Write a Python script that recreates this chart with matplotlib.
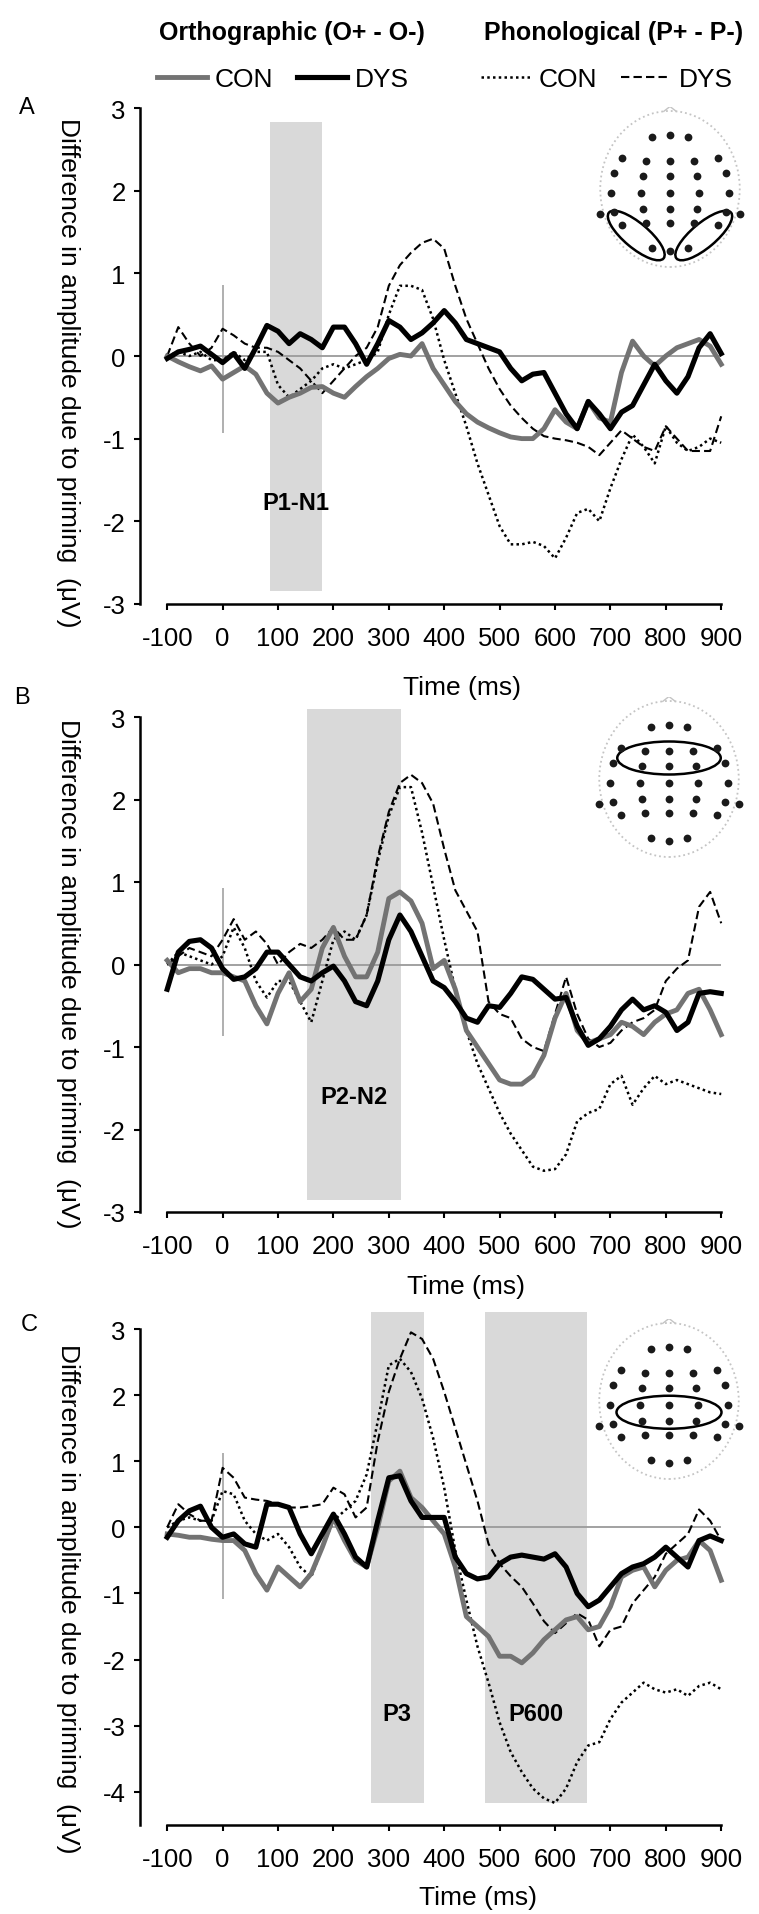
import matplotlib
matplotlib.use("Agg")
import matplotlib.pyplot as plt
from matplotlib.patches import Ellipse, Polygon

plt.rcParams['font.family'] = ['Liberation Sans', 'DejaVu Sans']
plt.rcParams['axes.unicode_minus'] = False

W, H = 759, 1915

# time grid (ms)
times = [-100, -80, -60, -40, -20, 0, 20, 40, 60, 80, 100, 120, 140, 160, 180,
         200, 220, 240, 260, 280, 300, 320, 340, 360, 380, 400, 420, 440, 460,
         480, 500, 520, 540, 560, 580, 600, 620, 640, 660, 680, 700, 720, 740,
         760, 780, 800, 820, 840, 860, 880, 900]

# Panel A - occipito-temporal sites
a_orth_con = [0, -0.07, -0.13, -0.18, -0.12, -0.28, -0.2, -0.12, -0.22, -0.45,
              -0.57, -0.5, -0.45, -0.38, -0.37, -0.45, -0.5, -0.37, -0.25, -0.15,
              -0.03, 0.02, 0.0, 0.15, -0.15, -0.35, -0.55, -0.7, -0.8, -0.87,
              -0.93, -0.98, -1.0, -1.0, -0.88, -0.65, -0.8, -0.88, -0.55, -0.75,
              -0.8, -0.2, 0.18, 0.0, -0.12, 0.0, 0.1, 0.15, 0.2, 0.12, -0.1]
a_orth_dys = [-0.03, 0.05, 0.08, 0.12, 0.02, -0.08, 0.03, -0.15, 0.1, 0.37,
              0.3, 0.15, 0.27, 0.2, 0.1, 0.35, 0.35, 0.15, -0.1, 0.15,
              0.43, 0.35, 0.2, 0.28, 0.4, 0.55, 0.4, 0.2, 0.15, 0.1,
              0.05, -0.15, -0.3, -0.22, -0.2, -0.45, -0.7, -0.88, -0.55, -0.7,
              -0.88, -0.68, -0.6, -0.35, -0.1, -0.3, -0.45, -0.25, 0.1, 0.27, 0.03]
a_phon_con = [0, 0.05, 0, 0.05, -0.05, -0.05, 0.05, -0.05, 0.05, 0.05,
              -0.35, -0.5, -0.4, -0.3, -0.15, -0.1, -0.15, -0.1, -0.05, 0.05,
              0.5, 0.85, 0.85, 0.8, 0.45, -0.05, -0.45, -0.85, -1.3, -1.68,
              -2.06, -2.28, -2.28, -2.25, -2.3, -2.45, -2.2, -1.9, -1.85, -2.0,
              -1.6, -1.25, -0.95, -1.1, -1.3, -0.85, -1.05, -1.15, -1.1, -1.0, -1.05]
a_phon_dys = [0, 0.35, 0.15, 0, 0.1, 0.33, 0.25, 0.15, 0.1, 0.1,
              0.05, -0.05, -0.15, -0.3, -0.45, -0.3, -0.15, 0, 0.1, 0.35,
              0.85, 1.1, 1.25, 1.37, 1.42, 1.3, 0.85, 0.45, 0.15, -0.15,
              -0.4, -0.6, -0.75, -0.88, -0.97, -1.0, -1.02, -1.05, -1.1, -1.2,
              -1.05, -0.9, -1.0, -1.1, -1.15, -0.85, -1.0, -1.15, -1.15, -1.15, -0.73]

# Panel B - fronto-central sites
b_orth_con = [0.05, -0.1, -0.05, -0.05, -0.1, -0.1, -0.15, -0.2, -0.5, -0.72,
              -0.35, -0.1, -0.45, -0.3, 0.2, 0.45, 0.1, -0.15, -0.15, 0.15,
              0.8, 0.88, 0.77, 0.5, -0.05, 0.05, -0.3, -0.8, -1.0, -1.2,
              -1.4, -1.45, -1.45, -1.35, -1.1, -0.65, -0.35, -0.8, -0.95, -0.9,
              -0.85, -0.7, -0.75, -0.85, -0.7, -0.6, -0.55, -0.35, -0.3, -0.55, -0.85]
b_orth_dys = [-0.3, 0.15, 0.28, 0.3, 0.2, -0.05, -0.18, -0.15, -0.05, 0.15,
              0.15, 0, -0.15, -0.2, -0.1, -0.02, -0.2, -0.45, -0.5, -0.2,
              0.3, 0.6, 0.4, 0.1, -0.2, -0.28, -0.45, -0.65, -0.7, -0.5,
              -0.52, -0.35, -0.15, -0.18, -0.3, -0.42, -0.4, -0.75, -0.98, -0.9,
              -0.75, -0.55, -0.42, -0.55, -0.5, -0.58, -0.8, -0.7, -0.35, -0.33, -0.35]
b_phon_con = [0, 0.15, 0.1, 0.05, 0, 0.1, 0.45, 0.2, -0.2, -0.4,
              -0.2, -0.2, -0.45, -0.7, -0.2, 0.3, 0.4, 0.3, 0.6, 1.25,
              1.8, 2.15, 2.15, 1.6, 0.95, 0.3, -0.3, -0.8, -1.2, -1.5,
              -1.8, -2.05, -2.25, -2.45, -2.5, -2.48, -2.3, -1.9, -1.8, -1.75,
              -1.45, -1.35, -1.7, -1.5, -1.35, -1.45, -1.4, -1.45, -1.5, -1.55, -1.57]
b_phon_dys = [0, 0.1, 0.2, 0.15, 0.1, 0.3, 0.55, 0.3, 0.4, 0.25,
              0, 0.15, 0.25, 0.2, 0.3, 0.45, 0.3, 0.3, 0.6, 1.3,
              1.85, 2.2, 2.3, 2.2, 1.95, 1.4, 0.9, 0.65, 0.4, -0.45,
              -0.6, -0.65, -0.9, -1.0, -1.05, -0.6, -0.15, -0.6, -0.9, -1.0,
              -0.95, -0.8, -0.7, -0.65, -0.55, -0.2, -0.05, 0.05, 0.7, 0.88, 0.5]

# Panel C - centro-parietal sites
c_orth_con = [-0.1, -0.12, -0.15, -0.15, -0.18, -0.2, -0.2, -0.35, -0.7, -0.95,
              -0.6, -0.75, -0.9, -0.7, -0.3, 0.15, -0.2, -0.5, -0.6, 0.0,
              0.7, 0.85, 0.45, 0.3, 0.1, -0.1, -0.6, -1.35, -1.5, -1.65,
              -1.95, -1.95, -2.05, -1.9, -1.7, -1.55, -1.4, -1.35, -1.55, -1.5,
              -1.2, -0.75, -0.65, -0.6, -0.9, -0.65, -0.5, -0.45, -0.2, -0.35, -0.8]
c_orth_dys = [-0.15, 0.1, 0.25, 0.32, 0, -0.15, -0.1, -0.25, -0.3, 0.35,
              0.35, 0.3, -0.1, -0.4, -0.1, 0.2, -0.1, -0.45, -0.6, 0.1,
              0.75, 0.78, 0.4, 0.15, 0.15, 0.15, -0.45, -0.7, -0.78, -0.75,
              -0.55, -0.45, -0.42, -0.45, -0.48, -0.4, -0.6, -1.0, -1.2, -1.1,
              -0.9, -0.7, -0.6, -0.55, -0.45, -0.3, -0.45, -0.6, -0.2, -0.13, -0.2]
c_phon_con = [0, 0.1, 0.15, 0.1, 0.1, 0.55, 0.5, 0.1, -0.1, -0.2,
              -0.1, -0.3, -0.6, -0.75, -0.3, 0.1, 0.25, 0.4, 0.8, 1.6,
              2.45, 2.55, 2.35, 1.95, 1.35, 0.6, -0.35, -1.1, -1.8, -2.35,
              -2.95, -3.4, -3.7, -3.95, -4.1, -4.17, -3.95, -3.55, -3.3, -3.25,
              -2.9, -2.65, -2.5, -2.35, -2.45, -2.5, -2.45, -2.55, -2.4, -2.35, -2.45]
c_phon_dys = [0, 0.35, 0.2, 0.1, 0.1, 0.9, 0.75, 0.45, 0.42, 0.4,
              0.35, 0.3, 0.3, 0.32, 0.35, 0.6, 0.5, 0.15, 0.3, 1.3,
              2.05, 2.55, 2.95, 2.85, 2.55, 2.05, 1.5, 0.95, 0.4, -0.25,
              -0.55, -0.74, -0.9, -1.15, -1.42, -1.6, -1.45, -1.3, -1.4, -1.8,
              -1.55, -1.5, -1.15, -0.95, -0.75, -0.4, -0.25, -0.1, 0.27, 0.1, -0.2]

# analysis windows (ms start, ms end, label)
win_a = [(85, 180, 'P1-N1')]
win_b = [(153, 322, 'P2-N2')]
win_c = [(267, 363, 'P3'), (474, 657, 'P600')]

# electrode montage (head-normalised)
elec_x = [-0.24, 0, 0.24,
          -0.64, -0.32, 0, 0.32, 0.64,
          -0.75, -0.36, 0, 0.36, 0.75,
          -0.79, -0.39, 0, 0.39, 0.79,
          -0.93, -0.75, -0.36, 0, 0.36, 0.75, 0.93,
          -0.64, -0.32, 0, 0.32, 0.64,
          -0.24, 0, 0.24]
elec_y = [0.69, 0.72, 0.69,
          0.42, 0.38, 0.38, 0.38, 0.42,
          0.21, 0.18, 0.18, 0.18, 0.21,
          -0.05, -0.05, -0.05, -0.05, -0.05,
          -0.33, -0.31, -0.27, -0.27, -0.27, -0.31, -0.33,
          -0.48, -0.45, -0.45, -0.45, -0.48,
          -0.79, -0.82, -0.79]


def px_rect(x0, x1, ytop, ybot):
    return [x0 / W, 1 - ybot / H, (x1 - x0) / W, (ybot - ytop) / H]


fig = plt.figure(figsize=(W / 100, H / 100), dpi=100)

panels = [
    dict(series=(a_orth_con, a_orth_dys, a_phon_con, a_phon_dys), wins=win_a,
         ylim=(-3, 3.2), ytop=92.7, ybot=604.8, spine=(-3, 3), yticks=range(-3, 4),
         shade=(-2.85, 2.83), stim=(-0.93, 0.86), lab_y=-1.77,
         letter=('A', 27, 108), ylab=373, tlab=(462, 688),
         head=(670, 190), ell=[(-0.45, -0.62, 0.95, 0.33, -40), (0.45, -0.62, 0.95, 0.33, 40)]),
    dict(series=(b_orth_con, b_orth_dys, b_phon_con, b_phon_dys), wins=win_b,
         ylim=(-3, 3.2), ytop=701.5, ybot=1213, spine=(-3, 3), yticks=range(-3, 4),
         shade=(-2.85, 3.1), stim=(-0.87, 0.93), lab_y=-1.6,
         letter=('B', 22, 698), ylab=974, tlab=(466, 1287),
         head=(669, 780), ell=[(0, 0.28, 1.38, 0.44, 0)]),
    dict(series=(c_orth_con, c_orth_dys, c_phon_con, c_phon_dys), wins=win_c,
         ylim=(-4.5, 3.4), ytop=1303.6, ybot=1825.8, spine=(-4.5, 3), yticks=range(-4, 4),
         shade=(-4.17, 3.26), stim=(-1.09, 1.13), lab_y=-2.82,
         letter=('C', 29, 1325), ylab=1599, tlab=(478, 1898),
         head=(669, 1402), ell=[(0, -0.15, 1.4, 0.44, 0)]),
]

styles = [dict(color='#737373', lw=3.5, zorder=4),
          dict(color='black', lw=3.7, zorder=5),
          dict(color='black', lw=1.8, ls=(0, (1, 1.3)), zorder=3),
          dict(color='black', lw=1.5, ls=(0, (4, 2)), zorder=3)]

handles = None
for p in panels:
    ax = fig.add_axes(px_rect(139.5, 732.3, p['ytop'], p['ybot']))
    ax.set_xlim(-150, 920)
    ax.set_ylim(*p['ylim'])
    for t0, t1, lab in p['wins']:
        ax.fill_between([t0, t1], p['shade'][0], p['shade'][1], color='#d9d9d9', lw=0, zorder=0)
        ax.text((t0 + t1) / 2, p['lab_y'], lab, ha='center', va='center',
                fontsize=17, fontweight='bold', zorder=6)
    ax.hlines(0, -100, 900, color='#9a9a9a', lw=1.3, zorder=1)
    ax.vlines(0, p['stim'][0], p['stim'][1], color='#9a9a9a', lw=1.1, zorder=1)
    lines = []
    for vals, st in zip(p['series'], styles):
        ln, = ax.plot(times, vals, solid_joinstyle='round', **st)
        lines.append(ln)
    if handles is None:
        handles = lines

    for s in ('top', 'right'):
        ax.spines[s].set_visible(False)
    ax.spines['left'].set_bounds(*p['spine'])
    ax.spines['bottom'].set_bounds(-100, 900)
    ax.spines['left'].set_linewidth(1.8)
    ax.spines['bottom'].set_linewidth(1.8)
    ax.set_xticks(range(-100, 901, 100))
    ax.set_yticks(list(p['yticks']))
    ax.tick_params(axis='both', direction='out', length=4, width=1.5, labelsize=18.5)
    ax.tick_params(axis='x', pad=12)
    ax.tick_params(axis='y', pad=6)

    name, lx, ly = p['letter']
    fig.text(lx / W, 1 - ly / H, name, fontsize=17, ha='center', va='center')
    fig.text(68 / W, 1 - p['ylab'] / H, 'Difference in amplitude due to priming  (\u03bcV)',
             rotation=270, ha='center', va='center', fontsize=19)
    fig.text(p['tlab'][0] / W, 1 - p['tlab'][1] / H, 'Time (ms)', ha='center', va='center', fontsize=19)

    # electrode map inset
    hx, hy = p['head']
    hax = fig.add_axes(px_rect(hx - 80, hx + 80, hy - 82, hy + 80))
    hax.set_xlim(-80 / 75, 80 / 75)
    hax.set_ylim(-80 / 75, 82 / 75)
    hax.axis('off')
    hax.add_patch(Ellipse((0, 0), 1.86, 2.08, fill=False, ec='#c4c4c4', lw=1.3, ls=':'))
    hax.add_patch(Polygon([(-0.09, 1.03), (0, 1.1), (0.09, 1.03)], closed=False,
                          fill=False, ec='#c4c4c4', lw=1.0))
    hax.plot(elec_x, elec_y, 'o', color='#1a1a1a', ms=5.6, mec='none')
    for cx, cy, ew, eh, ang in p['ell']:
        hax.add_patch(Ellipse((cx, cy), ew, eh, angle=ang, fill=False, ec='black', lw=1.8))

# headers and legends
fig.text(292 / W, 1 - 33 / H, 'Orthographic (O+ - O-)', fontsize=18, fontweight='bold',
         ha='center', va='center')
fig.text(614 / W, 1 - 33 / H, 'Phonological (P+ - P-)', fontsize=18, fontweight='bold',
         ha='center', va='center')

leg_kw = dict(loc='center', ncol=2, frameon=False, fontsize=19, handlelength=1.9,
              handletextpad=0.3, columnspacing=0.9, borderpad=0, borderaxespad=0)
fig.legend(handles[:2], ['CON', 'DYS'], bbox_to_anchor=(283 / W, 1 - 80 / H), **leg_kw)
fig.legend(handles[2:], ['CON', 'DYS'], bbox_to_anchor=(607 / W, 1 - 80 / H), **leg_kw)

fig.savefig('out.png', dpi=100, facecolor='white')
